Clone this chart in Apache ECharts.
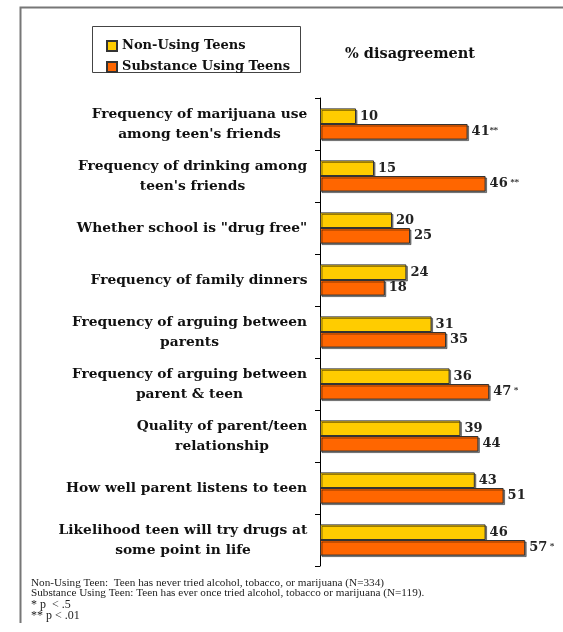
<!DOCTYPE html>
<html><head><meta charset="utf-8">
<style>html,body{margin:0;padding:0;background:#fff}#c{width:563px;height:632px}</style>
<script src="https://cdn.jsdelivr.net/npm/echarts@6/dist/echarts.min.js"></script>
</head><body><div id="c"></div>
<script>
const categories = [
  "Frequency of marijuana use\namong teen's friends",
  "Frequency of drinking among\nteen's friends",
  'Whether school is "drug free"',
  "Frequency of family dinners",
  "Frequency of arguing between\nparents",
  "Frequency of arguing between\nparent & teen",
  "Quality of parent/teen\nrelationship",
  "How well parent listens to teen",
  "Likelihood teen will try drugs at\nsome point in life"
];
const nonUsing = [10, 15, 20, 24, 31, 36, 39, 43, 46];
const substance = [41, 46, 25, 18, 35, 47, 44, 51, 57];
const substanceSig = ['**', ' **', '', '', '', ' *', '', '', ' *'];
const seriesNames = ['Non-Using Teens', 'Substance Using Teens'];
const chartTitle = '% disagreement';
const footnotes = [
  'Non-Using Teen:  Teen has never tried alcohol, tobacco, or marijuana (N=334)',
  'Substance Using Teen: Teen has ever once tried alcohol, tobacco or marijuana (N=119).',
  '* p  < .5',
  '** p < .01'
];

const FONT = '"DejaVu Serif", serif';
const CAT_SIZE = 13.8;
const ctx = document.createElement('canvas').getContext('2d');
ctx.font = 'bold ' + CAT_SIZE + 'px "DejaVu Serif"';
const rich = {};
categories.forEach((c, i) => {
  const w = Math.max(...c.split('\n').map(l => ctx.measureText(l).width));
  rich['c' + i] = {width: Math.ceil(w) + 1, align: 'center', fontFamily: FONT, fontWeight: 'bold', fontSize: CAT_SIZE, lineHeight: 20, color: '#111'};
});

const valueRich = {
  v: {fontFamily: FONT, fontWeight: 'bold', fontSize: 13, color: '#222'},
  s: {fontFamily: FONT, fontWeight: 'bold', fontSize: 8, color: '#222', padding: [0, 0, 3, 0]}
};

const chart = echarts.init(document.getElementById('c'), null, {renderer: 'canvas'});
const fnY = [583, 593, 605, 616];
chart.setOption({
  backgroundColor: '#fff',
  animation: false,
  title: {
    text: chartTitle, left: 340, top: 42,
    textStyle: {fontFamily: FONT, fontWeight: 'bold', fontSize: 14.5, color: '#111'}
  },
  legend: {
    orient: 'vertical', left: 101, top: 34, itemWidth: 10, itemHeight: 10, itemGap: 7, icon: 'rect',
    textStyle: {fontFamily: FONT, fontWeight: 'bold', fontSize: 13, color: '#111', lineHeight: 14},
    data: seriesNames
  },
  grid: {left: 320, top: 98, height: 468, width: 216, containLabel: false},
  xAxis: {type: 'value', min: 0, max: 60, show: false},
  yAxis: {
    type: 'category', inverse: true, data: categories,
    axisLine: {lineStyle: {color: '#000', width: 1}},
    axisTick: {show: true, length: 5, lineStyle: {color: '#000'}},
    axisLabel: {
      align: 'right', margin: 12,
      formatter: (val, idx) => val.split('\n').map(l => `{c${idx}|${l}}`).join('\n'),
      rich: rich
    }
  },
  series: [
    {
      name: seriesNames[0], type: 'bar', data: nonUsing, barGap: '0%', barCategoryGap: '40%',
      itemStyle: {color: '#FFCC00', borderColor: '#333', borderWidth: 1, shadowColor: 'rgba(0,0,0,0.45)', shadowOffsetX: 1.5, shadowOffsetY: 1.5},
      label: {show: true, position: 'right', distance: 4, formatter: p => `{v|${p.value}}`, rich: valueRich}
    },
    {
      name: seriesNames[1], type: 'bar', data: substance, barGap: '0%', barCategoryGap: '40%',
      itemStyle: {color: '#FF6600', borderColor: '#333', borderWidth: 1, shadowColor: 'rgba(0,0,0,0.45)', shadowOffsetX: 1.5, shadowOffsetY: 1.5},
      label: {show: true, position: 'right', distance: 4,
        formatter: p => `{v|${p.value}}` + (substanceSig[p.dataIndex] ? `{s|${substanceSig[p.dataIndex]}}` : ''),
        rich: valueRich}
    }
  ],
  graphic: [
    {type: 'polyline', silent: true, shape: {points: [[20.5, 623], [20.5, 7.5], [570, 7.5]]}, style: {fill: null, stroke: '#777', lineWidth: 2}},
    {type: 'rect', silent: true, shape: {x: 92.5, y: 26.5, width: 208, height: 46}, style: {fill: null, stroke: '#444', lineWidth: 1}},
    ...footnotes.map((t, i) => ({
      type: 'text', silent: true, x: 31, y: fnY[i],
      style: {text: t, fill: '#222', font: (i < 2 ? '11.2px' : '12px') + ' "Liberation Serif"', textVerticalAlign: 'middle'}
    }))
  ]
});
</script></body></html>
